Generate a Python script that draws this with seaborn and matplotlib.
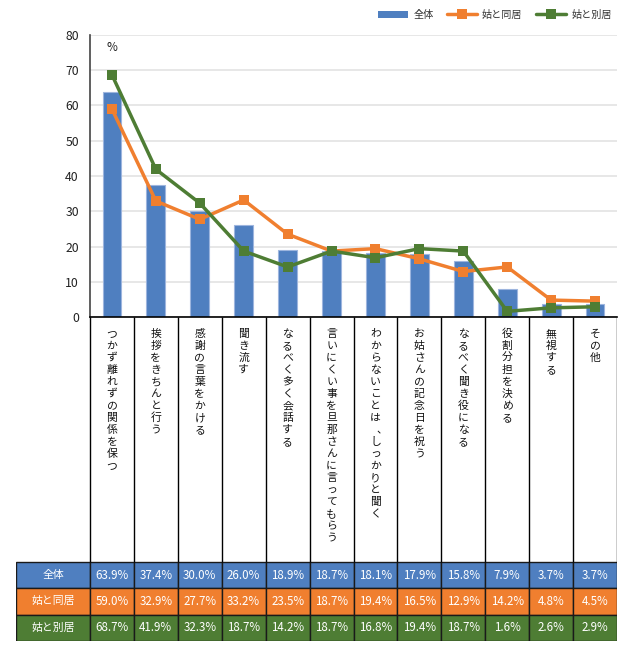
import numpy as np
import matplotlib
matplotlib.use('Agg')
import matplotlib.pyplot as plt
import matplotlib.transforms as mtransforms
from matplotlib.patches import Rectangle, Patch
from matplotlib.lines import Line2D
import seaborn as sns

sns.set_theme(style='white')
plt.rcParams['font.family'] = ['Noto Sans CJK JP', 'DejaVu Sans']

# data
cats = ["つかず離れずの関係を保つ", "挨拶をきちんと行う", "感謝の言葉をかける", "聞き流す",
        "なるべく多く会話する", "言いにくい事を旦那さんに言ってもらう", "わからないことは、しっかりと聞く",
        "お姑さんの記念日を祝う", "なるべく聞き役になる", "役割分担を決める", "無視する", "その他"]
zentai = [63.9, 37.4, 30.0, 26.0, 18.9, 18.7, 18.1, 17.9, 15.8, 7.9, 3.7, 3.7]
doukyo = [59.0, 32.9, 27.7, 33.2, 23.5, 18.7, 19.4, 16.5, 12.9, 14.2, 4.8, 4.5]
bekkyo = [68.7, 41.9, 32.3, 18.7, 14.2, 18.7, 16.8, 19.4, 18.7, 1.6, 2.6, 2.9]
series_names = ["全体", "姑と同居", "姑と別居"]
yticks = [0, 10, 20, 30, 40, 50, 60, 70, 80]

c_blue = '#4F7FC0'
c_orange = '#F07F2F'
c_green = '#4E7D34'
colors = [c_blue, c_orange, c_green]

W, H = 634, 661
def px(l, t, r, b):
    return [l / W, 1 - b / H, (r - l) / W, (b - t) / H]

fig = plt.figure(figsize=(W / 100, H / 100), dpi=100)
ax = fig.add_axes(px(90, 35, 617, 317))
tab = fig.add_axes(px(16, 317, 617, 641))

# bars + lines
pos = np.arange(len(cats))
sns.barplot(x=pos, y=zentai, color=c_blue, width=0.43, saturation=1, ax=ax, zorder=2,
            edgecolor='#9DB5DE', linewidth=0.8)
sns.lineplot(x=pos, y=doukyo, color=c_orange, marker='s', markersize=7.5, markeredgewidth=0,
             linewidth=2.5, ax=ax, zorder=3)
sns.lineplot(x=pos, y=bekkyo, color=c_green, marker='s', markersize=7.5, markeredgewidth=0,
             linewidth=2.5, ax=ax, zorder=4)

ax.set_xlim(-0.5, 11.5)
ax.set_ylim(0, 80)
ax.set_yticks(yticks)
ax.set_yticklabels([str(v) for v in yticks], fontsize=8.8, color='#222222')
shift = mtransforms.ScaledTranslation(0, -5 / 100, fig.dpi_scale_trans)
for lab in ax.get_yticklabels():
    lab.set_transform(lab.get_transform() + shift)
ax.set_xticks([])
ax.set_xlabel('')
ax.tick_params(axis='y', length=0, pad=8)
ax.yaxis.grid(True, color='#E3E3E3', linewidth=1.2)
ax.set_axisbelow(True)
for s in ['top', 'right']:
    ax.spines[s].set_visible(False)
ax.spines['left'].set_color('#444444')
ax.spines['left'].set_linewidth(1.2)
ax.spines['bottom'].set_color('black')
ax.spines['bottom'].set_linewidth(1.2)
ax.text(0, 76.5, '%', ha='center', va='center', fontsize=8.5, color='#222222')

handles = [Patch(facecolor=c_blue, edgecolor='none'),
           Line2D([], [], color=c_orange, lw=2.5, marker='s', markersize=7.5, markeredgewidth=0),
           Line2D([], [], color=c_green, lw=2.5, marker='s', markersize=7.5, markeredgewidth=0)]
ax.legend(handles, series_names, ncol=3, loc='center right', bbox_to_anchor=(0.99, 1 + 20 / 282),
          frameon=False, fontsize=7.3, handlelength=3.0, handleheight=0.8, columnspacing=1.3,
          handletextpad=0.5, borderaxespad=0, borderpad=0, labelcolor='#333333')

# category boxes and data table
cw = (617 - 90) / 12
hw = (90 - 16) / cw
tab.set_xlim(-0.5 - hw, 11.5)
tab.set_ylim(324, 0)
tab.axis('off')

box_h = 245
row_h = 26.3
for k in range(len(cats) + 1):
    tab.plot([k - 0.5, k - 0.5], [0, box_h], color='black', lw=1, solid_capstyle='butt')

pitch = 12
for i, lab in enumerate(cats):
    for j, ch in enumerate(lab):
        dx = 0.15 if ch == '、' else 0
        tab.text(i + dx, 17 + j * pitch, ch, ha='center', va='center', fontsize=7.8,
                 color='#111111')

rows = [zentai, doukyo, bekkyo]
for r, (name, vals, col) in enumerate(zip(series_names, rows, colors)):
    y0 = box_h + r * row_h
    tab.add_patch(Rectangle((-0.5 - hw, y0), hw, row_h, facecolor=col, edgecolor='#1a1a1a', lw=1))
    tab.text(-0.5 - hw / 2, y0 + row_h / 2, name, ha='center', va='center', fontsize=7.8, color='white')
    for i, v in enumerate(vals):
        tab.add_patch(Rectangle((i - 0.5, y0), 1, row_h, facecolor=col, edgecolor='#1a1a1a', lw=1))
        tab.text(i, y0 + row_h / 2, f'{v:.1f}%', ha='center', va='center', fontsize=8.3, color='white')

fig.savefig('out.png', dpi=100)
